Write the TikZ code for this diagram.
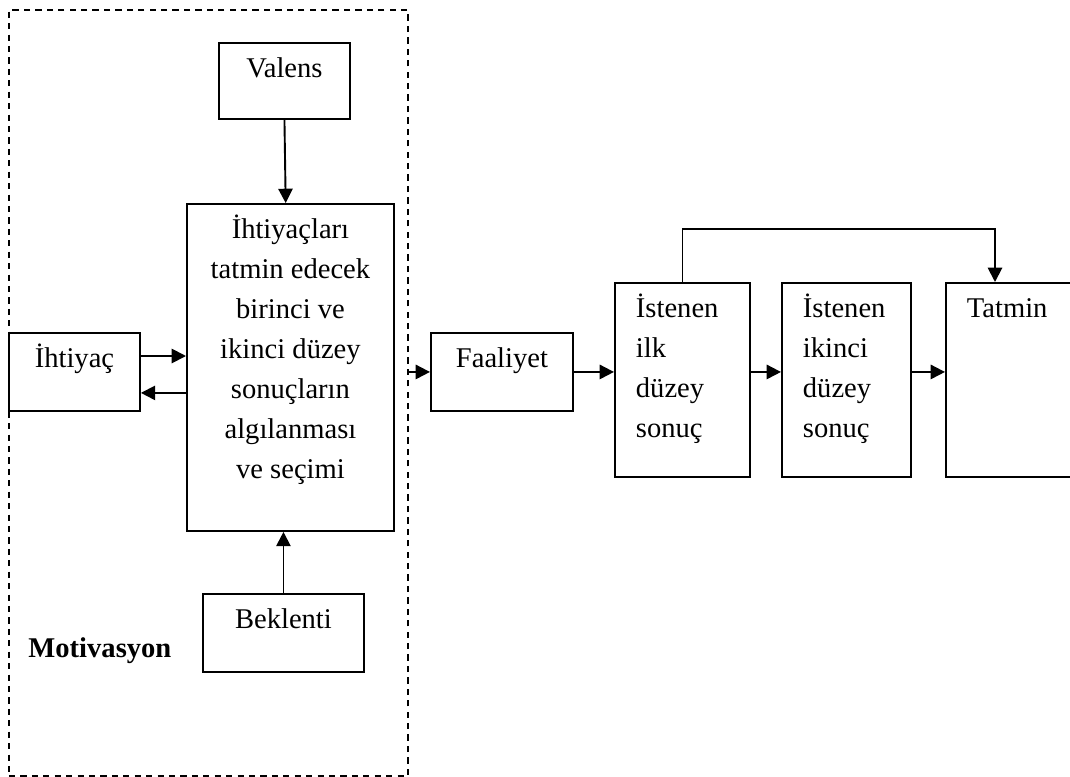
\documentclass[tikz,border=0pt]{standalone}
\usepackage{fontspec}
\setmainfont{Liberation Serif}
\usetikzlibrary{arrows.meta, positioning}
\newlength{\px}
\setlength{\px}{0.42pt}
\newcommand{\boxtext}[4][\centering]{%
  \parbox[c][#3\px][t]{#2\px}{#1\rule{0pt}{35\px}#4}}
\newcommand{\lefttext}{\raggedright\leftskip=21\px}

\begin{document}
\begin{tikzpicture}[
  x=0.42pt, y=-0.42pt,
  font=\fontsize{12}{16.8}\selectfont,
  box/.style={rectangle, draw, line width=0.8pt, inner sep=0pt,
              anchor=north west},
  frame/.style={rectangle, draw, line width=0.8pt, inner sep=0pt,
                dash pattern=on 2.6pt off 2.2pt, anchor=north west},
  arr/.style={-{Triangle[length=6pt, width=6pt]}, line width=0.8pt},
]
  \useasboundingbox (0,0) rectangle (1070,777);
  \clip (0,0) rectangle (1070,777);

  % motivasyon cercevesi
  \node[frame, minimum width=399*\px, minimum height=766*\px] (motiv) at (8,9) {};
  \node[font=\fontsize{12}{16.8}\selectfont\bfseries, inner sep=0pt,
        anchor=base west] (motivlabel) at (28,657) {Motivasyon};

  \node[box] (valens) at (218,42) {\boxtext{131}{76}{Valens}};
  \node[box] (secim) at (186,203) {\boxtext{207}{327}{İhtiyaçları\\ tatmin edecek\\
    birinci ve\\ ikinci düzey\\ sonuçların\\ algılanması\\ ve seçimi}};
  \node[box] (ihtiyac) at (8,332) {\boxtext{131}{78}{İhtiyaç}};
  \node[box] (beklenti) at (202,593) {\boxtext{161}{78}{Beklenti}};

  % sonuc zinciri
  \node[box] (faaliyet) at (430,332) {\boxtext{142}{78}{Faaliyet}};
  \node[box] (ist1) at (614,282) {\boxtext[\lefttext]{135}{194}{İstenen\\ ilk\\ düzey\\ sonuç}};
  \node[box] (ist2) at (781,282) {\boxtext[\lefttext]{129}{194}{İstenen\\ ikinci\\ düzey\\ sonuç}};
  \node[box] (tatmin) at (945,282) {\boxtext[\lefttext]{140}{194}{Tatmin}};

  \draw[arr] (valens.south) -- ([xshift=-2pt]secim.north);
  \draw[arr] (beklenti.north) -- (beklenti.north |- secim.south);
  \draw[arr] ([yshift=6.7pt]ihtiyac.east) -- ([yshift=6.7pt]ihtiyac.east -| secim.west);
  \draw[arr] ([yshift=-8.8pt]ihtiyac.east -| secim.west) -- ([yshift=-8.8pt]ihtiyac.east);
  \draw[arr] (faaliyet.west -| motiv.east) -- (faaliyet.west);
  \draw[arr] (faaliyet.east) -- (faaliyet.east -| ist1.west);
  \draw[arr] (ist1.east |- faaliyet.east) -- (ist2.west |- faaliyet.east);
  \draw[arr] (ist2.east |- faaliyet.east) -- (tatmin.west |- faaliyet.east);

  \coordinate (donus) at (995,229);
  \draw[arr] (ist1.north) |- (donus) -- (donus |- tatmin.north);
\end{tikzpicture}
\end{document}
